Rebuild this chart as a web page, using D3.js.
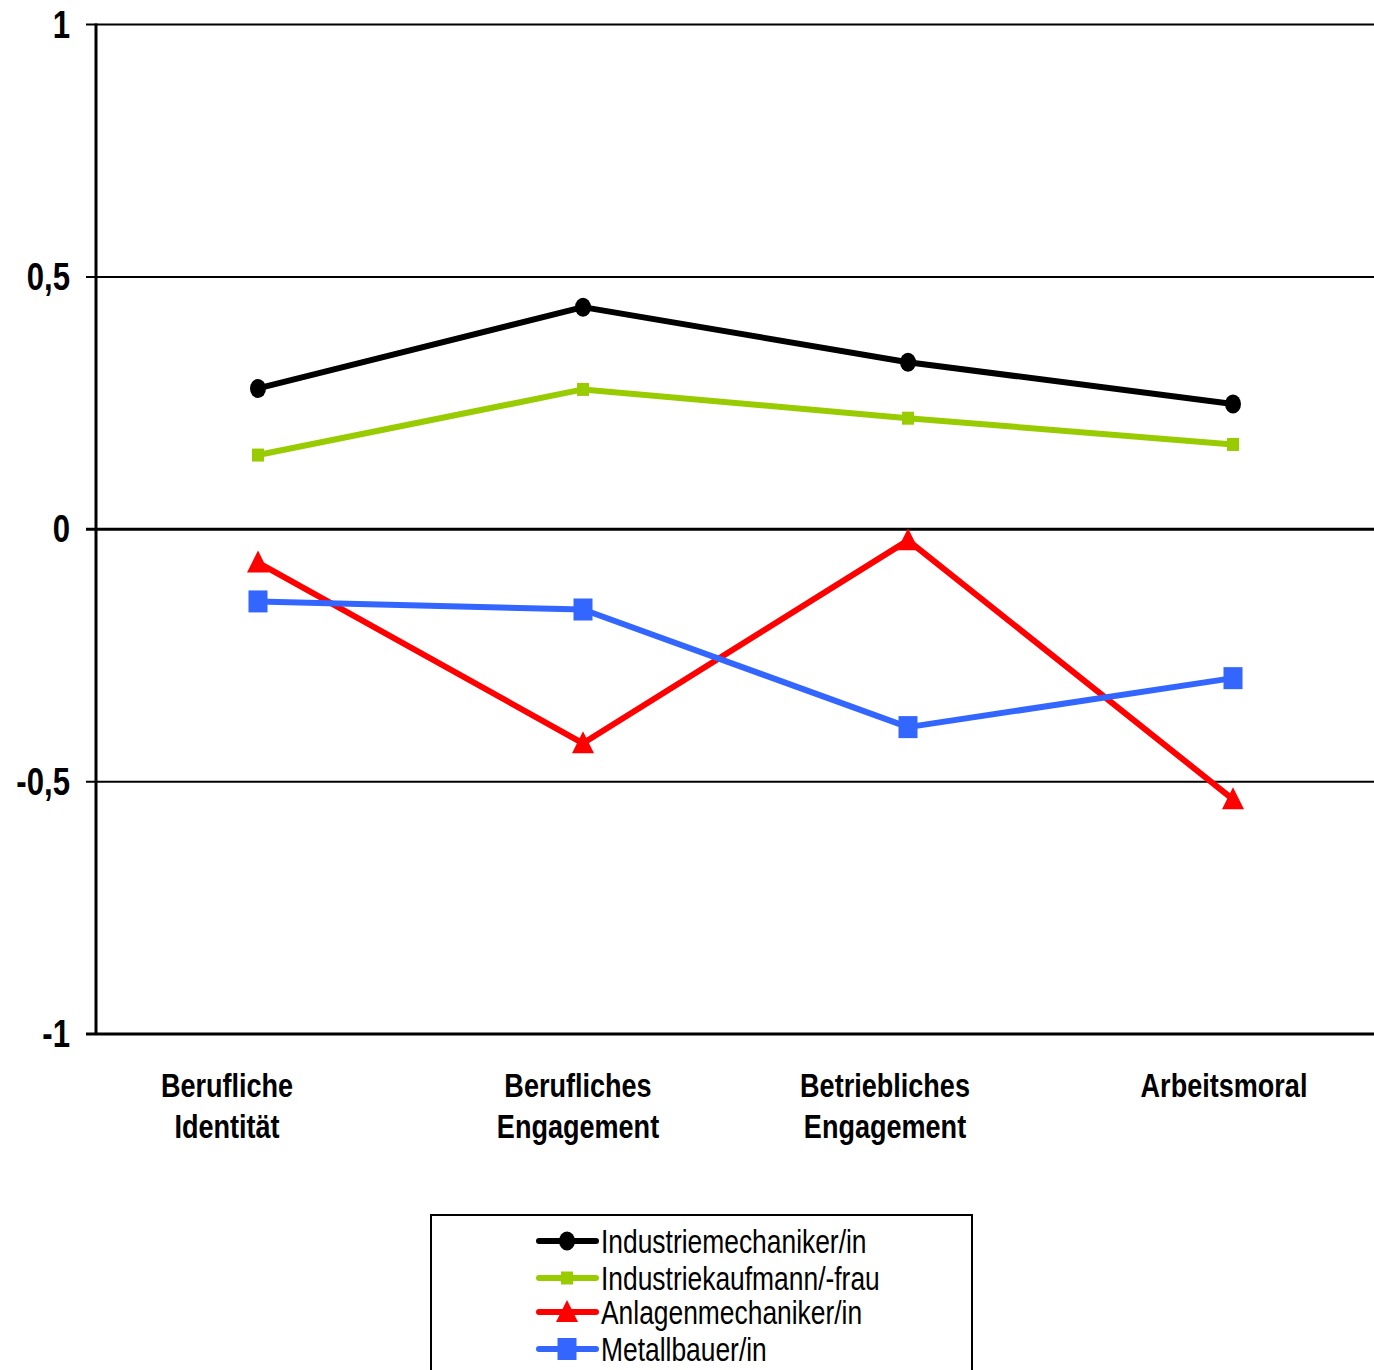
<!DOCTYPE html>
<html><head><meta charset="utf-8">
<script src="https://cdn.jsdelivr.net/npm/d3@7"></script>
<style>
html,body{margin:0;padding:0;background:#fff;}
svg{display:block;}
text{font-family:"Liberation Sans","Arial",sans-serif;}
</style></head>
<body>
<svg id="chart" width="1374" height="1370"></svg>
<script>
const categories = [["Berufliche","Identität"],["Berufliches","Engagement"],["Betriebliches","Engagement"],["Arbeitsmoral"]];
const seriesNames = ["Industriemechaniker/in","Industriekaufmann/-frau","Anlagenmechaniker/in","Metallbauer/in"];
const industriemechaniker = [0.279, 0.440, 0.331, 0.248];
const industriekaufmann = [0.147, 0.277, 0.220, 0.168];
const anlagenmechaniker = [-0.066, -0.424, -0.022, -0.535];
const metallbauer = [-0.143, -0.159, -0.392, -0.295];
const yTicks = [1, 0.5, 0, -0.5, -1];
const yTickLabels = ["1","0,5","0","-0,5","-1"];

(function(){
const seriesValues = [industriemechaniker, industriekaufmann, anlagenmechaniker, metallbauer];
const colors = ["#000000","#99cc00","#ff0000","#3366ff"];
const markers = ["circle","smallsquare","triangle","square"];
const labelDx = [-31, -5, -23, -9];

const svg = d3.select("#chart");
const mLeft = 96, mTop = 24.5, mBottom = 1034;
const x = d3.scalePoint().domain(d3.range(categories.length)).range([258, 1233]);
const y = d3.scaleLinear().domain([-1, 1]).range([mBottom, mTop]);

// gridlines
svg.append("g").selectAll("line").data(yTicks).join("line")
  .attr("x1", 86).attr("x2", 1374)
  .attr("y1", d => y(d)).attr("y2", d => y(d))
  .attr("stroke", "#000").attr("stroke-width", d => (d === 0 || d === -1) ? 3 : 2);

// y axis line
svg.append("line").attr("x1", mLeft).attr("x2", mLeft).attr("y1", mTop - 1).attr("y2", mBottom + 1)
  .attr("stroke", "#000").attr("stroke-width", 3);

// y tick labels
svg.append("g").selectAll("text").data(yTicks).join("text")
  .attr("transform", d => `translate(70,${y(d) + 13}) scale(0.82,1)`)
  .attr("text-anchor", "end").attr("font-size", 38).attr("font-weight", "bold")
  .text((d, i) => yTickLabels[i]);

// category labels
const cl = svg.append("g").selectAll("text").data(categories).join("text")
  .attr("text-anchor", "middle").attr("font-size", 33).attr("font-weight", "bold")
  .attr("transform", (d, i) => `translate(${x(i) + labelDx[i]},1097) scale(0.82,1)`);
cl.selectAll("tspan").data(d => d).join("tspan")
  .attr("x", 0).attr("dy", (d, i) => i === 0 ? 0 : 41).text(d => d);

function drawMarker(g, type, color) {
  if (type === "circle") g.append("ellipse").attr("rx", 8).attr("ry", 9.5).attr("fill", color);
  else if (type === "smallsquare") g.append("rect").attr("x", -6).attr("y", -6.5).attr("width", 12).attr("height", 13).attr("fill", color);
  else if (type === "square") g.append("rect").attr("x", -9.5).attr("y", -11).attr("width", 19).attr("height", 22).attr("fill", color);
  else if (type === "triangle") g.append("path").attr("d", "M0,-12 L11,10 L-11,10 Z").attr("fill", color);
}

const line = d3.line().x((d, i) => x(i)).y(d => y(d));
seriesValues.forEach((vals, si) => {
  const g = svg.append("g");
  g.append("path").attr("d", line(vals)).attr("fill", "none")
    .attr("stroke", colors[si]).attr("stroke-width", 6).attr("stroke-linejoin", "round");
  vals.forEach((v, i) => {
    const mg = g.append("g").attr("transform", `translate(${x(i)},${y(v)})`);
    drawMarker(mg, markers[si], colors[si]);
  });
});

// legend
const lg = svg.append("g");
lg.append("rect").attr("x", 431).attr("y", 1215).attr("width", 541).attr("height", 170)
  .attr("fill", "none").attr("stroke", "#000").attr("stroke-width", 2);
const rowY = [1241, 1278, 1312, 1349];
seriesNames.forEach((name, si) => {
  const r = lg.append("g").attr("transform", `translate(0,${rowY[si]})`);
  r.append("line").attr("x1", 539).attr("x2", 596).attr("y1", 0).attr("y2", 0)
    .attr("stroke", colors[si]).attr("stroke-width", 6).attr("stroke-linecap", "round");
  const mg = r.append("g").attr("transform", "translate(567,0)");
  drawMarker(mg, markers[si], colors[si]);
  r.append("text").attr("transform", "translate(601,12) scale(0.8,1)").attr("font-size", 33).text(name);
});
})();
</script>
</body></html>
